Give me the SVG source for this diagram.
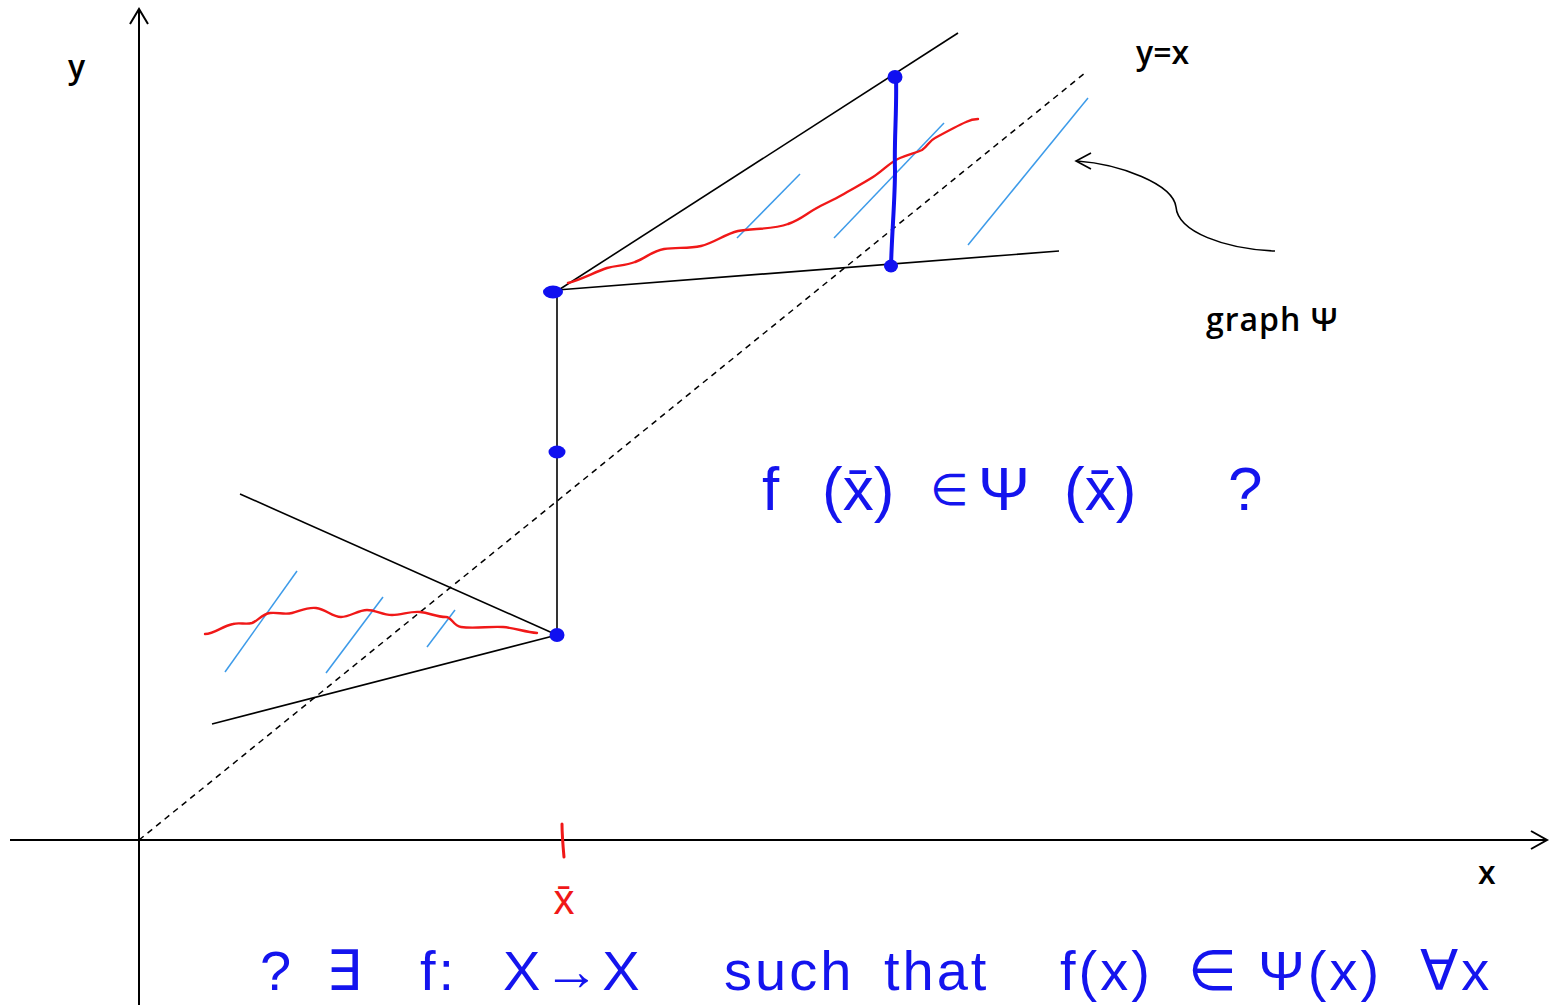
<svg xmlns="http://www.w3.org/2000/svg" width="1551" height="1007" viewBox="0 0 1551 1007">
<style>
.ax{stroke:#000;stroke-width:2;fill:none}
.ln{stroke:#000;stroke-width:1.6;fill:none}
.dash{stroke:#000;stroke-width:1.5;fill:none;stroke-dasharray:6 5}
.red{stroke:#f01818;stroke-width:2.4;fill:none;stroke-linecap:round;stroke-linejoin:round}
.hatch{stroke:#3d9be9;stroke-width:1.5;fill:none}
.dot{fill:#1010f0}
.lbl{font-family:"Open Sans","Liberation Sans",sans-serif;font-weight:600;font-size:32px;fill:#000}
.hw{font-family:"Liberation Sans","DejaVu Sans",sans-serif;fill:#1414ee}
.q1{font-size:62px}
.q2{font-size:56px;letter-spacing:3px}
.sm{font-size:44px}
</style>
<rect width="1551" height="1007" fill="#fff"/>
<g id="axes">
  <line class="ax" x1="10" y1="840" x2="1546" y2="840"/>
  <polyline class="ax" points="1531,831 1547,840 1531,849"/>
  <line class="ax" x1="139" y1="1005" x2="139" y2="10"/>
  <polyline class="ax" points="130,24 139,9 148,24"/>
  <line class="dash" x1="139" y1="840" x2="1085" y2="73"/>
</g>
<g id="labels">
  <text class="lbl" x="68" y="78">y</text>
  <text class="lbl" x="1478" y="884">x</text>
  <text class="lbl" x="1136" y="64">y=x</text>
  <text class="lbl" x="1206" y="331" letter-spacing="1">graph Ψ</text>
</g>
<g id="hatching">
  <line class="hatch" x1="225" y1="672" x2="297" y2="571"/>
  <line class="hatch" x1="326" y1="673" x2="383" y2="597"/>
  <line class="hatch" x1="427" y1="647" x2="455" y2="610"/>
  <line class="hatch" x1="737" y1="238" x2="800" y2="174"/>
  <line class="hatch" x1="834" y1="238" x2="944" y2="123"/>
  <line class="hatch" x1="968" y1="245" x2="1088" y2="98"/>
</g>
<g id="lower-set">
  <line class="ln" x1="557" y1="635" x2="240" y2="494"/>
  <line class="ln" x1="557" y1="635" x2="212" y2="724"/>
  <path class="red" d="M205,634 C215,634 222,626 233,624 C240,622 245,625 252,623 C258,621 262,614 270,613 C278,612 284,615 292,613 C300,611 307,607 316,608 C326,609 332,617 341,617 C350,617 358,610 367,610 C376,610 382,615 392,615 C402,615 410,611 420,612 C430,613 436,617 446,617 C452,617 453,626 461,627 C475,629 490,626 503,627 C515,628 525,632 537,633"/>
</g>
<g id="jump">
  <line class="ln" x1="557" y1="292" x2="557" y2="635"/>
</g>
<g id="upper-set">
  <line class="ln" x1="557" y1="291" x2="958" y2="33"/>
  <line class="ln" x1="557" y1="290" x2="1059" y2="251"/>
  <path class="red" d="M568,283 C580,280 595,272 607,268 C618,265 625,266 635,262 C646,258 652,251 664,249 C677,247 688,249 701,246 C714,243 725,234 738,231 C752,228 772,230 788,224 C800,220 806,214 815,209 C825,203 832,201 842,195 C852,189 862,184 873,177 C884,170 890,162 900,158 C910,154 915,153 922,150 C928,146 929,141 935,138 C946,132 957,126 966,122 C972,119 975,119 978,119"/>
</g>
<g id="psi-value">
  <path d="M896,77 C897,110 894,140 895,170 C895,200 892,230 891,266" stroke="#1010f0" stroke-width="4" fill="none" stroke-linecap="round"/>
</g>
<g id="points">
  <ellipse class="dot" cx="557" cy="635" rx="7.5" ry="7"/>
  <ellipse class="dot" cx="557" cy="452" rx="8.5" ry="6.5"/>
  <ellipse class="dot" cx="553" cy="292" rx="10" ry="6.5"/>
  <ellipse class="dot" cx="895" cy="77" rx="7.5" ry="7"/>
  <ellipse class="dot" cx="891" cy="266" rx="7" ry="6.5"/>
</g>
<g id="xbar-mark">
  <path d="M562,824 C562,835 563,846 564,857" stroke="#f01818" stroke-width="3" fill="none" stroke-linecap="round"/>
  <text x="564" y="914" text-anchor="middle" font-family="Liberation Sans, DejaVu Sans, sans-serif" font-size="42" fill="#f01818">x̄</text>
</g>
<g id="arrow-graph">
  <path class="ln" d="M1275,251 C1225,249 1178,232 1176,207 C1173,184 1120,164 1077,161"/>
  <polyline class="ln" points="1091,153 1076,161 1091,169"/>
</g>
<g id="question-1">
  <text class="hw q1" y="510"><tspan x="762">f</tspan><tspan x="822">(x̄)</tspan><tspan class="sm" x="930" y="505">∈</tspan><tspan x="978" y="510">Ψ</tspan><tspan x="1064">(x̄)</tspan><tspan x="1228">?</tspan></text>
</g>
<g id="question-2">
  <text class="hw q2" y="990"><tspan x="260">?</tspan><tspan x="326">∃</tspan><tspan x="420">f:</tspan><tspan x="503">X→X</tspan><tspan x="724">such</tspan><tspan x="884">that</tspan><tspan x="1060">f(x)</tspan><tspan x="1188">∈</tspan><tspan x="1258">Ψ(x)</tspan><tspan x="1420">∀x</tspan></text>
</g>
</svg>
